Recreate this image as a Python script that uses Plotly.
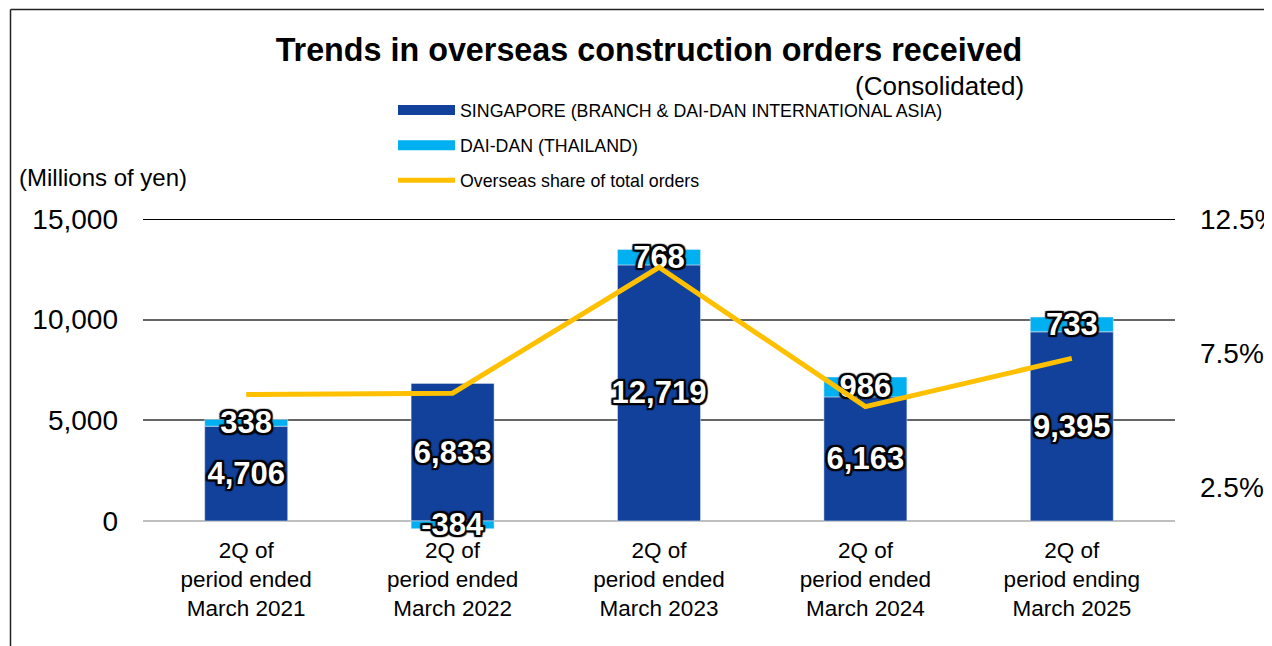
import plotly.graph_objects as go

# ---------------- data ----------------
categories = [
    "2Q of<br>period ended<br>March 2021",
    "2Q of<br>period ended<br>March 2022",
    "2Q of<br>period ended<br>March 2023",
    "2Q of<br>period ended<br>March 2024",
    "2Q of<br>period ending<br>March 2025",
]
singapore = [4706, 6833, 12719, 6163, 9395]
thailand = [338, -384, 768, 986, 733]
overseas_share = [5.95, 6.0, 10.7, 5.5, 7.3]  # percent

left_ticks = [0, 5000, 10000, 15000]
right_ticks = [2.5, 7.5, 12.5]

series_names = [
    "SINGAPORE (BRANCH & DAI-DAN INTERNATIONAL ASIA)",
    "DAI-DAN (THAILAND)",
    "Overseas share of total orders",
]

# ---------------- style ----------------
OFF = 8                      # page body margin offset
W, H = 1272 - OFF, 646 - OFF
# plot-area box in reference (page) pixels
RL, RR, RT, RB = 143, 1175, 219, 531
PL, PR, PT, PB = RL - OFF, RR - OFF, RT - OFF, RB - OFF
C_DARK = "#11419A"
C_LIGHT = "#00B0F0"
C_LINE = "#FFC000"
FONT = "Liberation Sans, Arial, sans-serif"
OUTLINE = ("-2px -2px 1px #000, 2px -2px 1px #000, -2px 2px 1px #000, "
           "2px 2px 1px #000, 0 2px 1px #000, 0 -2px 1px #000, "
           "2px 0 1px #000, -2px 0 1px #000")


def px_x(x):
    """reference page x -> paper x"""
    return (x - RL) / (RR - RL)


def px_y(y):
    """reference page y -> paper y"""
    return (RB - y) / (RB - RT)


fig = go.Figure()

label_font = dict(family=FONT, size=31, color="white", weight=700, shadow=OUTLINE)

fig.add_trace(go.Bar(
    x=categories, y=singapore, name=series_names[0], marker_color=C_DARK,
    text=[f"{v:,}" for v in singapore], textposition="inside",
    insidetextanchor="middle", textangle=0, constraintext="none",
    textfont=label_font, cliponaxis=False, showlegend=False,
))
fig.add_trace(go.Bar(
    x=categories, y=thailand, name=series_names[1], marker_color=C_LIGHT,
    text=[f"{v:,}" for v in thailand], textposition="inside",
    insidetextanchor="middle", textangle=0, constraintext="none",
    textfont=label_font, cliponaxis=False, showlegend=False,
))
fig.add_trace(go.Scatter(
    x=categories, y=overseas_share, name=series_names[2], yaxis="y2",
    mode="lines", line=dict(color=C_LINE, width=5), showlegend=False,
))

# legend entries (legend-only swatches)
for nm, col, wd, grp in [(series_names[0], C_DARK, 10, "a"),
                         (series_names[1], C_LIGHT, 10, "b"),
                         (series_names[2], C_LINE, 5, "c")]:
    fig.add_trace(go.Scatter(
        x=[None], y=[None], name=nm, mode="lines",
        line=dict(color=col, width=wd), legendgroup=grp, showlegend=True,
    ))

y_lo = -500
fig.update_layout(
    width=W, height=H,
    margin=dict(l=PL, r=W - PR, t=PT, b=H - PB, autoexpand=False),
    paper_bgcolor="white", plot_bgcolor="white",
    barmode="relative", bargap=0.598,
    font=dict(family=FONT, color="black"),
    title=dict(
        text="<b>Trends in overseas construction orders received</b>",
        font=dict(family=FONT, size=32.3, color="black"),
        xref="container", x=(649 - OFF) / W, xanchor="center",
        yref="container", y=1 - (50 - OFF) / H, yanchor="middle",
    ),
    xaxis=dict(
        showgrid=False, showline=False, ticks="", zeroline=False,
        tickfont=dict(size=22.5, color="black"), ticklabelstandoff=3,
    ),
    yaxis=dict(
        range=[y_lo, 15000], tickvals=left_ticks, tickformat=",",
        showgrid=True, gridcolor="#666666", gridwidth=1.5,
        zeroline=True, zerolinecolor="#BFBFBF", zerolinewidth=2,
        showline=False, ticks="", tickfont=dict(size=28, color="black"),
        ticklabelstandoff=24,
    ),
    yaxis2=dict(
        overlaying="y", side="right",
        range=[0.86, 12.5], tickvals=right_ticks,
        ticktext=[f"{v}%" for v in right_ticks],
        showgrid=False, zeroline=False, showline=False, ticks="",
        tickfont=dict(size=28, color="black"), ticklabelstandoff=24,
    ),
    legend=dict(
        x=px_x(393), xanchor="left", y=px_y(92), yanchor="top",
        font=dict(size=17.8, color="black"), itemwidth=57,
        tracegroupgap=9, bgcolor="rgba(0,0,0,0)", traceorder="grouped",
    ),
    annotations=[
        dict(text="(Consolidated)", xref="paper", yref="paper",
             x=px_x(1026), xanchor="right", y=px_y(86), yanchor="middle",
             showarrow=False, font=dict(size=26, color="black")),
        dict(text="(Millions of yen)", xref="paper", yref="paper",
             x=px_x(17), xanchor="left", y=px_y(177), yanchor="middle",
             showarrow=False, font=dict(size=24, color="black")),
    ],
    shapes=[
        # top grid line at 15,000 (black)
        dict(type="line", xref="paper", yref="y", x0=0, x1=1, y0=15000, y1=15000,
             line=dict(color="black", width=2), layer="below"),
        # page frame
        dict(type="line", xref="paper", yref="paper", x0=px_x(10.5), x1=px_x(1280),
             y0=px_y(9.5), y1=px_y(9.5), line=dict(color="#222", width=1.5)),
        dict(type="line", xref="paper", yref="paper", x0=px_x(10.5), x1=px_x(10.5),
             y0=px_y(9.5), y1=px_y(660), line=dict(color="#222", width=1.5)),
    ],
)

fig.write_html("out.html")
